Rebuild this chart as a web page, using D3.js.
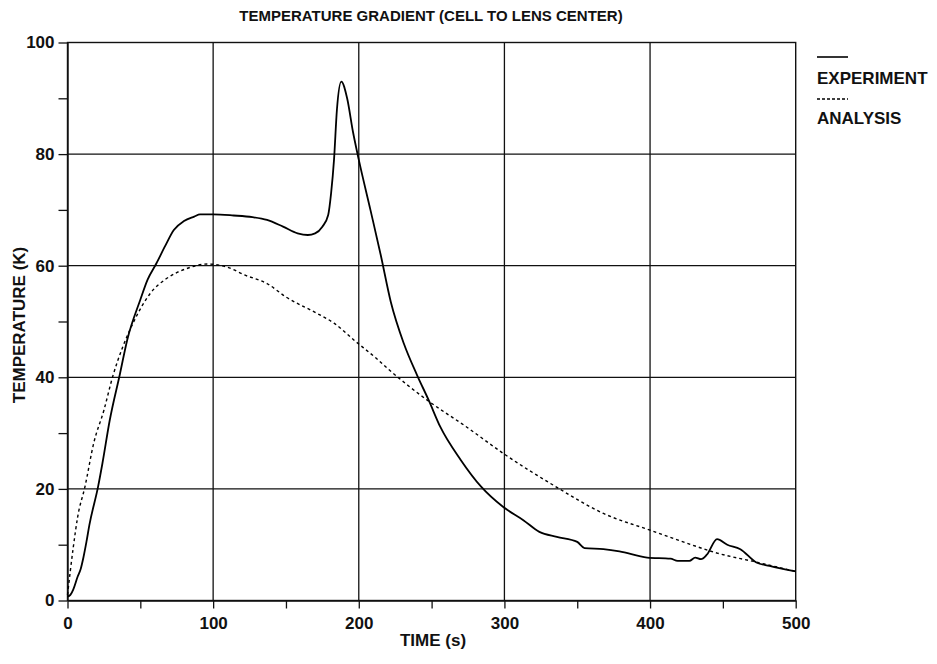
<!DOCTYPE html>
<html>
<head>
<meta charset="utf-8">
<script src="https://cdn.jsdelivr.net/npm/d3@7"></script>
<style>
  body { margin: 0; background: #fff; }
  svg text { font-family: "Liberation Sans", Arial, Helvetica, sans-serif; font-weight: bold; fill: #111; }
</style>
</head>
<body>
<div id="plot"></div>
<script>
// values
const expTime = [0, 2, 4, 7, 9, 11, 13, 15, 21, 24, 29, 36, 41, 50, 55, 61, 67, 73, 80, 87, 91, 100,
  114, 127, 137, 148, 158, 165, 170, 175, 179, 181, 183, 185, 188, 192, 196, 200, 208, 215,
  222, 231, 240, 248, 256, 270, 284, 299, 313, 324, 336, 350, 355, 368, 379, 398, 414, 419,
  427, 431, 435, 439, 446, 453, 462, 473, 482, 500];
const expTemp = [0.7, 1.0, 2.0, 4.3, 5.6, 7.8, 10.5, 13.5, 20.4, 24.6, 32.3, 40.6, 46.7, 53.9, 57.5, 60.4, 63.5, 66.4, 68.0, 68.8, 69.2, 69.2,
  69.0, 68.7, 68.2, 67.0, 65.8, 65.5, 65.8, 67.0, 69.1, 73, 79, 88, 93, 90, 84, 79, 70, 62,
  53.5, 46, 40.4, 35.9, 31.1, 25.2, 20.4, 16.8, 14.4, 12.3, 11.4, 10.5, 9.4, 9.2, 8.8, 7.7, 7.5, 7.1,
  7.1, 7.7, 7.4, 8.2, 11.0, 10.0, 9.2, 6.8, 6.2, 5.2];

const anaTime = [0, 4, 7, 12, 18, 25, 31, 38, 45, 57, 68, 82, 96, 109, 122, 137, 150, 171, 183,
  197, 212, 221, 247, 274, 299, 334, 368, 400, 425, 446, 471, 500];
const anaTemp = [1.0, 9.6, 15, 20.4, 28.2, 34.1, 40.1, 45.5, 49.7, 55.1, 57.7, 59.5, 60.3, 59.8, 58.3, 56.8, 54.4, 51.5, 49.7,
  46.6, 43.4, 41.3, 35.9, 31.1, 26.4, 20.6, 15.6, 12.6, 10.3, 8.5, 7.0, 5.2];

const xTicks = d3.range(0, 501, 50);
const yTicks = d3.range(0, 101, 10);
const legendNames = ["EXPERIMENT", "ANALYSIS"];

const w = 937, h = 664;
const plotL = 67.5, plotR = 795.7, plotT = 42.5, plotB = 600.5;

const svg = d3.select("#plot").append("svg")
  .attr("width", w)
  .attr("height", h);

const x = d3.scaleLinear().domain([0, 500]).range([plotL, plotR]);
const y = d3.scaleLinear().domain([0, 100]).range([plotB, plotT]);

// grid
svg.append("g").selectAll("line")
  .data(d3.range(100, 500, 100))
  .enter().append("line")
  .attr("x1", d => x(d)).attr("x2", d => x(d))
  .attr("y1", plotT).attr("y2", plotB)
  .attr("stroke", "#111").attr("stroke-width", 1.3);
svg.append("g").selectAll("line")
  .data(d3.range(20, 100, 20))
  .enter().append("line")
  .attr("x1", plotL).attr("x2", plotR)
  .attr("y1", d => y(d)).attr("y2", d => y(d))
  .attr("stroke", "#111").attr("stroke-width", 1.3);

svg.append("rect")
  .attr("x", plotL).attr("y", plotT)
  .attr("width", plotR - plotL).attr("height", plotB - plotT)
  .attr("fill", "none").attr("stroke", "#111").attr("stroke-width", 1.4);

// axes
const xAxis = d3.axisBottom(x).tickValues(xTicks).tickSizeInner(8).tickSizeOuter(0).tickPadding(8)
  .tickFormat(d => d % 100 === 0 ? d : "");
const yAxis = d3.axisLeft(y).tickValues(yTicks).tickSizeInner(9).tickSizeOuter(0).tickPadding(4)
  .tickFormat(d => d % 20 === 0 ? d : "");

const gx = svg.append("g").attr("transform", "translate(0," + plotB + ")").call(xAxis);
const gy = svg.append("g").attr("transform", "translate(" + plotL + ",0)").call(yAxis);
[gx, gy].forEach(g => {
  g.select(".domain").attr("stroke", "#111").attr("stroke-width", 1.4);
  g.selectAll(".tick line").attr("stroke", "#111").attr("stroke-width", 1.3);
  g.selectAll(".tick text").attr("font-size", 17).attr("font-family", null).attr("fill", "#111");
});

svg.append("text")
  .attr("x", 431).attr("y", 21)
  .attr("text-anchor", "middle")
  .attr("font-size", 15)
  .text("TEMPERATURE GRADIENT (CELL TO LENS CENTER)");

svg.append("text")
  .attr("x", 433).attr("y", 646)
  .attr("text-anchor", "middle")
  .attr("font-size", 17)
  .text("TIME (s)");

svg.append("text")
  .attr("transform", "translate(25,325) rotate(-90)")
  .attr("text-anchor", "middle")
  .attr("font-size", 17)
  .text("TEMPERATURE (K)");

// curves
const line = d3.line()
  .x(d => x(d[0]))
  .y(d => y(d[1]))
  .curve(d3.curveMonotoneX);

svg.append("path")
  .datum(d3.zip(expTime, expTemp))
  .attr("d", line)
  .attr("fill", "none")
  .attr("stroke", "#000")
  .attr("stroke-width", 1.8);

svg.append("path")
  .datum(d3.zip(anaTime, anaTemp))
  .attr("d", line)
  .attr("fill", "none")
  .attr("stroke", "#000")
  .attr("stroke-width", 1.4)
  .attr("stroke-dasharray", "3,3");

// legend
const lg = svg.append("g").attr("transform", "translate(817,0)");
lg.append("line").attr("x1", 0).attr("x2", 31).attr("y1", 57).attr("y2", 57)
  .attr("stroke", "#000").attr("stroke-width", 1.6);
lg.append("text").attr("x", 0).attr("y", 84).attr("font-size", 17).text(legendNames[0]);
lg.append("line").attr("x1", 0).attr("x2", 31).attr("y1", 99).attr("y2", 99)
  .attr("stroke", "#000").attr("stroke-width", 1.4).attr("stroke-dasharray", "3,2");
lg.append("text").attr("x", 0).attr("y", 124).attr("font-size", 17).text(legendNames[1]);
</script>
</body>
</html>
